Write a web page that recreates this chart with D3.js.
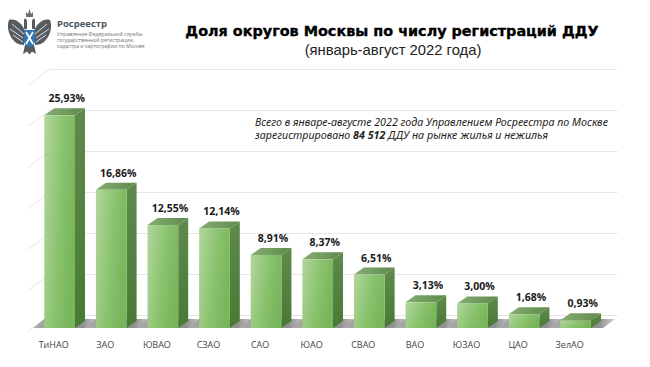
<!DOCTYPE html>
<html lang="ru">
<head>
  <meta charset="UTF-8">
  <title>Доля округов Москвы</title>
  <script src="https://cdn.jsdelivr.net/npm/d3@7/dist/d3.min.js"></script>
  <style>
    html, body { margin: 0; padding: 0; background: #fff; }
    svg { display: block; }
  </style>
</head>
<body>
<div id="chart"></div>
<script>
  // данные
  const categories = ['ТиНАО', 'ЗАО', 'ЮВАО', 'СЗАО', 'САО', 'ЮАО', 'СВАО', 'ВАО', 'ЮЗАО', 'ЦАО', 'ЗелАО'];
  const shares = [25.93, 16.86, 12.55, 12.14, 8.91, 8.37, 6.51, 3.13, 3.00, 1.68, 0.93];
  const gridTicks = [0, 5, 10, 15, 20, 25, 30];
  const logoLines = ['Управление Федеральной службы', 'государственной регистрации,', 'кадастра и картографии по Москве'];

  const width = 650, height = 367;
  const baseY = 328;       // передний край столбцов
  const depthX = 10, depthY = 7;   // глубина столбца
  const backShift = 13;    // стена сзади выше пола
  const sideX = 22, sideY = 16.5;  // левая стенка

  const x = d3.scaleBand().domain(categories).range([33.85, 601.5]).paddingInner(0.405).paddingOuter(0.2025);
  const y = d3.scaleLinear().domain([0, 30]).range([baseY, baseY - 246]);
  const ru = d3.formatLocale({ decimal: ',', thousands: ' ', grouping: [3], currency: ['', ''] });
  const label = d => ru.format('.2f')(d) + '%';

  const svg = d3.select('#chart').append('svg').attr('width', width).attr('height', height);
  const defs = svg.append('defs');

  const grad = (id, x2, y2, stops) => {
    const g = defs.append('linearGradient').attr('id', id).attr('x1', 0).attr('y1', 0).attr('x2', x2).attr('y2', y2);
    stops.forEach(s => g.append('stop').attr('offset', s[0]).attr('stop-color', s[1]));
  };
  grad('front', 1, 0.35, [[0, '#b3d79d'], [0.55, '#8cc471'], [1, '#79b65b']]);
  grad('side', 0, 1, [[0, '#5f8a4b'], [1, '#477a34']]);
  grad('top', 1, 0, [[0, '#86ad72'], [1, '#5f8a4c']]);
  grad('shadow', 1, 0, [[0, '#a9a9a9'], [0.75, '#8f8f8f'], [1, '#d0d0d0']]);
  defs.append('filter').attr('id', 'soft').append('feGaussianBlur').attr('stdDeviation', 0.7);

  // сетка: задняя стенка и левая сторона
  const grid = svg.append('g').attr('fill', 'none').attr('stroke', '#e6e6e6').attr('stroke-width', 1);
  grid.selectAll('line.back').data(gridTicks).join('line').attr('class', 'back')
    .attr('x1', 28 + sideX).attr('x2', 617.5)
    .attr('y1', d => Math.round(y(d) - backShift) + 0.5).attr('y2', d => Math.round(y(d) - backShift) + 0.5);
  grid.selectAll('line.side').data(gridTicks).join('line').attr('class', 'side')
    .attr('x1', 28).attr('x2', 28 + sideX)
    .attr('y1', d => y(d) - backShift + sideY).attr('y2', d => y(d) - backShift);

  // тени на полу
  svg.append('g').attr('filter', 'url(#soft)').selectAll('path').data(categories).join('path')
    .attr('fill', 'url(#shadow)')
    .attr('d', c => {
      const x0 = x(c), w = x.bandwidth();
      return `M${x0 - 11},${baseY} L${x0},${baseY - 9} L${x0 + w + 24},${baseY - 9} L${x0 + w + 12},${baseY} Z`;
    });

  // столбцы
  const bars = svg.append('g').selectAll('g').data(categories.map((c, i) => ({ c, v: shares[i] }))).join('g');
  bars.append('path').attr('fill', 'url(#side)').attr('d', d => {
    const r = x(d.c) + x.bandwidth();
    return `M${r},${y(d.v)} L${r + depthX},${y(d.v) - depthY} L${r + depthX},${baseY - depthY} L${r},${baseY} Z`;
  });
  bars.append('path').attr('fill', 'url(#top)').attr('d', d => {
    const l = x(d.c), r = l + x.bandwidth();
    return `M${l},${y(d.v)} L${l + depthX},${y(d.v) - depthY} L${r + depthX},${y(d.v) - depthY} L${r},${y(d.v)} Z`;
  });
  bars.append('rect').attr('fill', 'url(#front)')
    .attr('x', d => x(d.c)).attr('y', d => y(d.v))
    .attr('width', x.bandwidth()).attr('height', d => baseY - y(d.v));
  bars.append('text')
    .attr('x', d => x(d.c) + x.bandwidth() / 2 + 7).attr('y', d => y(d.v) - 13)
    .attr('text-anchor', 'middle')
    .attr('font-family', '"Open Sans"').attr('font-weight', 700).attr('font-size', 10.5).attr('fill', '#1a1a1a')
    .text(d => label(d.v));

  // подписи округов
  const xAxis = svg.append('g').attr('transform', `translate(-6,${baseY + 11})`)
    .call(d3.axisBottom(x).tickSize(0).tickPadding(3));
  xAxis.select('.domain').remove();
  xAxis.selectAll('text').attr('font-family', '"Open Sans"').attr('font-size', 9).attr('fill', '#444');

  // заголовок
  svg.append('text').attr('x', 392).attr('y', 36).attr('text-anchor', 'middle')
    .attr('font-family', '"DejaVu Sans"').attr('font-weight', 700).attr('font-size', 14.4).attr('fill', '#000')
    .attr('stroke', '#000').attr('stroke-width', 0.35)
    .text('Доля округов Москвы по числу регистраций ДДУ');
  svg.append('text').attr('x', 393).attr('y', 54.5).attr('text-anchor', 'middle')
    .attr('font-family', '"Liberation Sans"').attr('font-size', 14.8).attr('fill', '#222')
    .text('(январь-август 2022 года)');

  // пояснение
  const note = svg.append('g').attr('font-family', '"Noto Sans"').attr('font-style', 'italic').attr('font-size', 10.7).attr('fill', '#222');
  note.append('text').attr('x', 255).attr('y', 125.5)
    .text('Всего в январе-августе 2022 года Управлением Росреестра по Москве');
  const note2 = note.append('text').attr('x', 255).attr('y', 138.5);
  note2.append('tspan').text('зарегистрировано ');
  note2.append('tspan').attr('font-weight', 700).text('84 512');
  note2.append('tspan').text(' ДДУ на рынке жилья и нежилья');

  // логотип
  const logo = svg.append('g');
  const wing = g => {
    g.append('path').attr('d', 'M25,31 C22,23 15,18 9,20 C7,25 8,32 11,37 C14,42 18,45 24,45 Z').attr('fill', '#565b5f');
    g.append('path').attr('d', 'M12,24 L24,34 M10,29 L23,38 M13,35 L23,42').attr('stroke', '#fff').attr('stroke-width', 0.8).attr('fill', 'none');
  };
  logo.append('g').call(wing);
  logo.append('g').attr('transform', 'translate(59,0) scale(-1,1)').call(wing);
  logo.append('path').attr('d', 'M25,45 L34,45 L36,54 L32,51.5 L29.5,54.5 L27,51.5 L23,54 Z').attr('fill', '#565b5f');
  logo.append('path').attr('d', 'M24,21 C24,17 27,18 27,22 L27,29 L24,29 Z M35,21 C35,17 32,18 32,22 L32,29 L35,29 Z').attr('fill', '#565b5f');
  logo.append('path').attr('d', 'M26,17 L26,12 L28,14 L29.5,9 L31,14 L33,12 L33,17 Z').attr('fill', '#6a6e72');
  logo.append('path').attr('d', 'M24,30 H35 V41 Q35,45 29.5,47 Q24,45 24,41 Z').attr('fill', '#2f78b5');
  logo.append('path').attr('d', 'M26,32 L33,44 M33,32 L26,44').attr('stroke', '#fff').attr('stroke-width', 1.8).attr('fill', 'none');
  logo.append('text').attr('x', 57).attr('y', 27)
    .attr('font-family', '"Open Sans"').attr('font-weight', 700).attr('font-size', 9.5).attr('fill', '#4b5560')
    .text('Росреестр');
  logo.selectAll('text.sub').data(logoLines).join('text').attr('class', 'sub')
    .attr('x', 57).attr('y', (d, i) => 36 + i * 5.9)
    .attr('font-family', '"Open Sans"').attr('font-size', 5.1).attr('fill', '#6b7278')
    .text(d => d);
</script>
</body>
</html>
